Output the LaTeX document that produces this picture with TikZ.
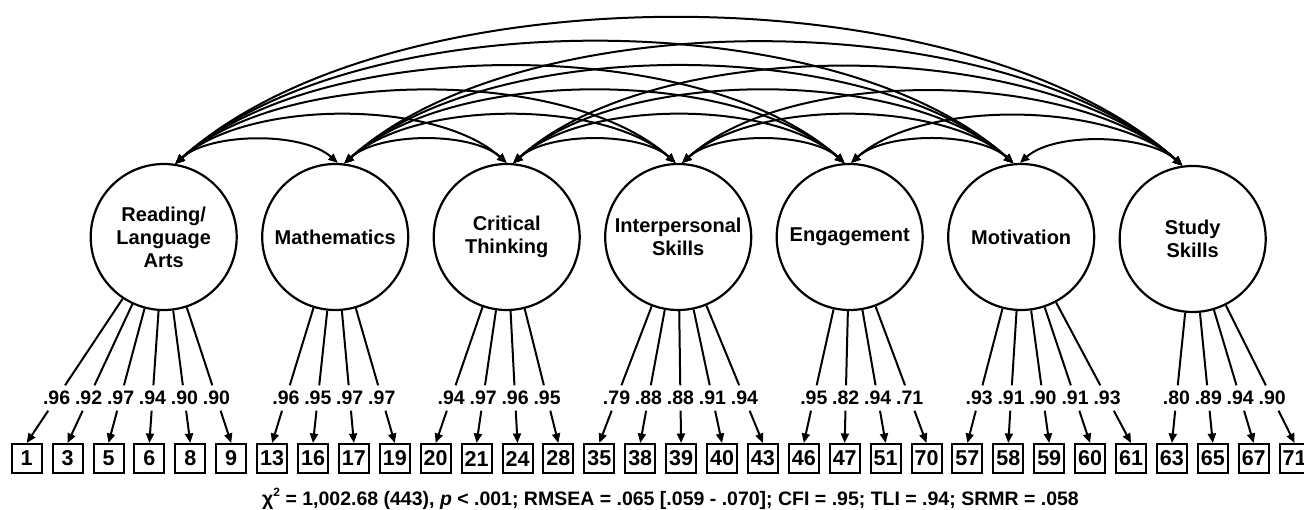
\documentclass[tikz,border=0pt]{standalone}
\usepackage{fontspec}
\setmainfont{Liberation Sans}
\usetikzlibrary{arrows.meta}
\begin{document}
\begin{tikzpicture}[x=1pt,y=1pt,
  fac/.style={circle,draw,line width=2.2pt,minimum size=146pt,inner sep=0pt,align=center,font=\fontsize{20}{23}\selectfont\bfseries},
  ind/.style={rectangle,draw,line width=2pt,minimum width=30pt,minimum height=29pt,inner sep=0pt,font=\fontsize{21.5}{21.5}\selectfont\bfseries},
  lod/.style={inner xsep=0pt,inner ysep=0pt,minimum height=25pt,font=\fontsize{19.5}{19.5}\selectfont\bfseries},
  ln/.style={line width=2pt},
  tip/.style={-{Triangle[length=9.5pt,width=8pt]}},
  cv/.style={line width=2pt,{Triangle[length=9.5pt,width=8pt]}-{Triangle[length=9.5pt,width=8pt]}}
]
\useasboundingbox (0,0) rectangle (1304,-509);
\coordinate (hl) at (0,-398);
\coordinate (hr) at (1304,-398);
\node[fac] (F1) at (163.7,-237) {Reading/\\Language\\Arts};
\node[fac] (F2) at (335.2,-237) {Mathematics};
\node[fac] (F3) at (506.7,-237) {Critical\\Thinking};
\node[fac] (F4) at (678.2,-237) {Interpersonal\\Skills};
\node[fac] (F5) at (849.7,-237) {Engagement};
\node[fac] (F6) at (1021.2,-237) {Motivation};
\node[fac] (F7) at (1192.7,-239) {Study\\Skills};
\foreach \k/\f/\v/\n in {
1/1/.96/1, 2/1/.92/3, 3/1/.97/5, 4/1/.94/6, 5/1/.90/8, 6/1/.90/9,
7/2/.96/13, 8/2/.95/16, 9/2/.97/17, 10/2/.97/19,
11/3/.94/20, 12/3/.97/21, 13/3/.96/24, 14/3/.95/28,
15/4/.79/35, 16/4/.88/38, 17/4/.88/39, 18/4/.91/40, 19/4/.94/43,
20/5/.95/46, 21/5/.82/47, 22/5/.94/51, 23/5/.71/70,
24/6/.93/57, 25/6/.91/58, 26/6/.90/59, 27/6/.91/60, 28/6/.93/61,
29/7/.80/63, 30/7/.89/65, 31/7/.94/67, 32/7/.90/71}
{
 \node[ind] (b\k) at ({26.7+40.9*(\k-1)},-458.5) {\n};
 \node[lod] (l\k) at (intersection of F\f--b\k.north and hl--hr) {\v};
 \draw[ln] (F\f) -- (l\k);
 \draw[ln,tip] (l\k) -- (b\k.north);
}
\foreach \i/\sa in {1/81.3,2/83.5,3/85.5,4/87.6,5/89.8,6/91.8}{
 \foreach \j/\ea in {2/88.2,3/90.2,4/92.4,5/94.5,6/96.5,7/98.7}{
  \ifnum\j>\i \draw[cv] (F\i.\sa) to[out=42,in=138,looseness=0.74] (F\j.\ea); \fi
 }}
\node[anchor=base west,inner sep=0pt,font=\fontsize{19.5}{20}\selectfont\bfseries] (cap) at (262,-505)
 {χ\raisebox{0.45em}{\fontsize{12}{12}\selectfont 2} = 1,002.68 (443), \textit{p} < .001; RMSEA = .065 [.059 - .070]; CFI = .95; TLI = .94; SRMR = .058};
\end{tikzpicture}
\end{document}
